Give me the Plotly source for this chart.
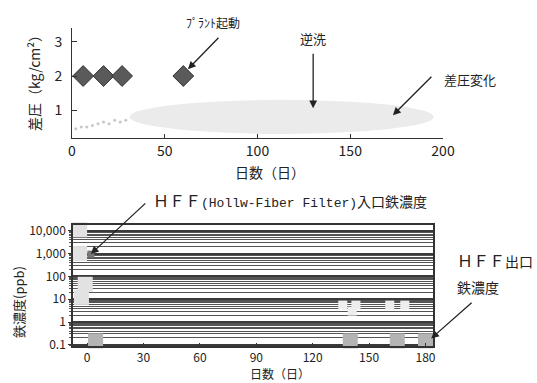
import plotly.graph_objects as go

# ---------------- data ----------------
# top chart: differential pressure (kg/cm2)
startup_days = [6, 17, 27, 60]
startup_dp = [2, 2, 2, 2]
early_days = [2, 5, 8, 11, 14, 17, 20, 23, 26, 29]
early_dp = [0.45, 0.5, 0.5, 0.55, 0.6, 0.65, 0.6, 0.7, 0.65, 0.7]
cloud_days = [31, 195]      # extent of the dense differential-pressure record
cloud_dp = [0.3, 1.3]

# bottom chart: iron concentration (ppb)
inlet_days = [-4, -4, -1, -3]
inlet_ppb = [11000, 1000, 45, 12]
inlet_start_day = [2]
inlet_start_ppb = [950]
outlet_days = [4.5, 140, 165, 180]
outlet_ppb = [0.15, 0.15, 0.15, 0.15]
mid_days = [136, 143, 141, 161, 169]
mid_ppb = [5.5, 5.5, 3.0, 5.5, 5.5]
y_tick_vals = [0.1, 1, 10, 100, 1000, 10000]
y_tick_text = ["0.1", "1", "10", "100", "1,000", "10,000"]
x2_ticks = [0, 30, 60, 90, 120, 150, 180]
x1_ticks = [0, 50, 100, 150, 200]
y1_ticks = [1, 2, 3]

FONT = "Noto Sans CJK JP"
TXT = "#222222"
W, H = 537, 383


def px(x):
    return x / W


def py(y):
    return 1 - y / H


fig = go.Figure()

# differential pressure
fig.add_trace(go.Scatter(x=early_days, y=early_dp, mode="markers",
                         marker=dict(size=3, color="#c8c8c8"),
                         xaxis="x", yaxis="y", showlegend=False))
fig.add_trace(go.Scatter(x=startup_days, y=startup_dp, mode="markers",
                         marker=dict(symbol="diamond", size=16, color="#5a5a5a",
                                     line=dict(color="#333333", width=1)),
                         xaxis="x", yaxis="y", showlegend=False))
fig.add_shape(type="circle", xref="x", yref="y",
              x0=cloud_days[0], x1=cloud_days[1], y0=cloud_dp[0], y1=cloud_dp[1],
              fillcolor="#ebebeb", line=dict(width=0), layer="below")

# iron concentration
fig.add_trace(go.Scatter(x=inlet_days, y=inlet_ppb, mode="markers",
                         marker=dict(symbol="square", size=15, color="#e2e2e2"),
                         xaxis="x2", yaxis="y2", showlegend=False, cliponaxis=False))
fig.add_trace(go.Scatter(x=inlet_start_day, y=inlet_start_ppb, mode="markers",
                         marker=dict(symbol="square", size=7, color="#777777"),
                         xaxis="x2", yaxis="y2", showlegend=False))
fig.add_trace(go.Scatter(x=outlet_days, y=outlet_ppb, mode="markers",
                         marker=dict(symbol="square", size=15, color="#b4b4b4"),
                         xaxis="x2", yaxis="y2", showlegend=False, cliponaxis=False))
fig.add_trace(go.Scatter(x=mid_days, y=mid_ppb, mode="markers",
                         marker=dict(symbol="square", size=9, color="#eeeeee"),
                         xaxis="x2", yaxis="y2", showlegend=False))

fig.update_layout(
    width=W, height=H,
    margin=dict(l=0, r=0, t=0, b=0),
    paper_bgcolor="white", plot_bgcolor="white",
    font=dict(family=FONT, color=TXT),
    xaxis=dict(domain=[px(72), px(443)], range=[0, 200], tickvals=x1_ticks,
               ticks="inside", ticklen=4, tickcolor="#333", anchor="y",
               showline=True, linecolor="#333333", linewidth=1,
               tickfont=dict(family=FONT, size=14, color=TXT),
               zeroline=False, showgrid=False, automargin=False),
    yaxis=dict(domain=[py(138), py(28)], range=[0.18, 3.41], tickvals=y1_ticks,
               ticks="inside", ticklen=5, tickcolor="#333", anchor="x",
               ticklabelstandoff=6,
               showline=True, linecolor="#333333", linewidth=1,
               tickfont=dict(family=FONT, size=14, color=TXT),
               zeroline=False, showgrid=False, automargin=False),
    xaxis2=dict(domain=[px(73), px(433)], range=[-7.5, 184], tickvals=x2_ticks,
                ticks="inside", ticklen=3, tickcolor="#333", anchor="y2", mirror=True,
                ticklabelstandoff=0,
                showline=True, linecolor="#333333", linewidth=1.5,
                tickfont=dict(family=FONT, size=12, color=TXT),
                zeroline=False, showgrid=False, automargin=False),
    yaxis2=dict(domain=[py(346), py(225)], type="log", range=[-1.05, 4.25],
                tickvals=y_tick_vals, ticktext=y_tick_text, anchor="x2", mirror=True,
                ticks="outside", ticklen=3, tickcolor="#333",
                showgrid=True, gridcolor="#3a3a3a", gridwidth=2,
                minor=dict(dtick="D1", showgrid=True, gridcolor="#555555", gridwidth=1.3,
                           ticks="outside", ticklen=2, tickcolor="#555"),
                showline=True, linecolor="#333333", linewidth=1.5,
                tickfont=dict(family=FONT, size=12, color=TXT),
                zeroline=False, automargin=False),
)


def label(x, y, text, size=13, xanchor="center", **kw):
    fig.add_annotation(x=px(x), y=py(y), xref="paper", yref="paper", text=text,
                       showarrow=False, xanchor=xanchor, yanchor="middle",
                       font=dict(family=FONT, size=size, color=TXT), **kw)


# axis titles
label(270, 172, "日数（日）", 14)
label(34, 80, "差圧（kg/cm²）", 14, textangle=-90)
label(280, 373, "日数（日）", 12)
label(18, 302, "鉄濃度(ppb)", 13, textangle=-90)

arrow = dict(showarrow=True, arrowhead=2, arrowsize=1.2, arrowwidth=1.3, arrowcolor="#222",
             axref="pixel", ayref="pixel", text="")
fig.add_annotation(x=startup_days[-1] + 2.5, y=2.2, xref="x", yref="y", ax=32, ay=-33, **arrow)
label(213, 23, "ﾌﾟﾗﾝﾄ起動", 12)
fig.add_annotation(x=130, y=1.05, xref="x", yref="y", ax=0, ay=-56, **arrow)
label(313, 38, "逆洗", 13)
fig.add_annotation(x=173, y=0.85, xref="x", yref="y", ax=40, ay=-40, **arrow)
label(470, 80, "差圧変化", 13)

fig.add_annotation(x=inlet_start_day[0], y=2.98, xref="x2", yref="y2", ax=56, ay=-52, **arrow)
label(151, 200,
      "<span style='font-size:16px'>ＨＦＦ</span>"
      "<span style='font-family:Liberation Mono;font-size:13px'>(Hollw-Fiber Filter)</span>"
      "入口鉄濃度", 14, xanchor="left")
fig.add_annotation(x=outlet_days[-1] + 3, y=-0.72, xref="x2", yref="y2", ax=42, ay=-37, **arrow)
label(455, 260, "<span style='font-size:16px'>ＨＦＦ</span>出口", 14, xanchor="left")
label(455, 287, "鉄濃度", 14, xanchor="left")

fig.write_html("out.html", config={"displayModeBar": False},
               post_script="document.body.style.margin='0';")
